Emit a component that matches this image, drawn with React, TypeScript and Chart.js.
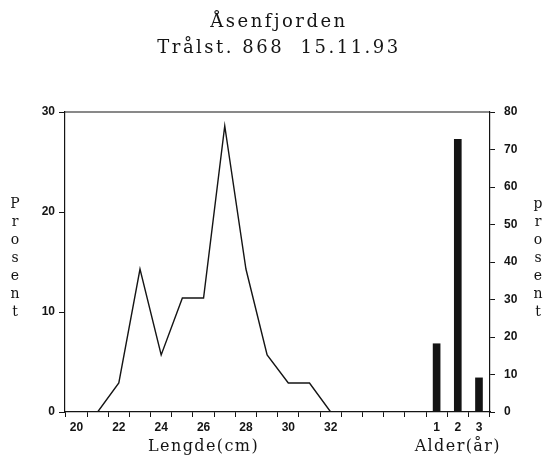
import React, { useEffect, useRef } from 'react';
import { Chart, registerables } from 'chart.js';

Chart.register(...registerables);

// ---- data ----
const lengthsCm = [21, 22, 23, 24, 25, 26, 27, 28, 29, 30, 31, 32];
const lengthPct = [0, 2.9, 14.3, 5.7, 11.4, 11.4, 28.6, 14.3, 5.7, 2.9, 2.9, 0];
const ages = [1, 2, 3];
const agePct = [18.2, 72.7, 9.1];
const AGE_POS_OFFSET = 36; // age section sits on the same axis, after the length section
const lengthTickLabels = [20, 22, 24, 26, 28, 30, 32];
const leftTicks = [0, 10, 20, 30];
const rightTicks = [0, 10, 20, 30, 40, 50, 60, 70, 80];
const titleLines = ['Åsenfjorden', 'Trålst. 868  15.11.93'];
const xTitleLength = 'Lengde(cm)';
const xTitleAge = 'Alder(år)';
const yTitle = 'Prosent';

const INK = '#141414';
const SERIF = '"DejaVu Serif", serif';
const TICK_FONT = { family: '"Liberation Sans", sans-serif', size: 12, weight: 'bold' as const };

const xTickPositions: number[] = [];
for (let v = lengthTickLabels[0]; v <= AGE_POS_OFFSET + ages[ages.length - 1]; v++) xTickPositions.push(v);

function xLabel(v: number): string {
  if (lengthTickLabels.includes(v)) return String(v);
  const a = v - AGE_POS_OFFSET;
  if (ages.includes(a)) return String(a);
  return '';
}

const textPlugin = {
  id: 'extraTexts',
  afterDraw(chart: any) {
    const ctx = chart.ctx as CanvasRenderingContext2D;
    const { left, right, top, bottom } = chart.chartArea;
    const xs = chart.scales.x;
    ctx.save();
    // top frame line
    ctx.strokeStyle = INK;
    ctx.lineWidth = 1.2;
    ctx.beginPath();
    ctx.moveTo(left, top);
    ctx.lineTo(right, top);
    ctx.stroke();

    ctx.fillStyle = INK;
    ctx.textAlign = 'center';
    ctx.textBaseline = 'middle';
    // title
    ctx.font = `18px ${SERIF}`;
    (ctx as any).letterSpacing = '2.5px';
    ctx.fillText(titleLines[0], 279, 22);
    ctx.fillText(titleLines[1], 279, 48);
    // axis titles
    ctx.font = `16px ${SERIF}`;
    (ctx as any).letterSpacing = '1.4px';
    const midLen = (lengthTickLabels[0] + lengthTickLabels[lengthTickLabels.length - 1]) / 2;
    ctx.fillText(xTitleLength, xs.getPixelForValue(midLen), 447);
    ctx.fillText(xTitleAge, xs.getPixelForValue(AGE_POS_OFFSET + ages[1]), 447);
    // vertical "Prosent" both sides
    ctx.font = `14px ${SERIF}`;
    (ctx as any).letterSpacing = '0px';
    const letters = yTitle.split('');
    const step = 18;
    const mid = (top + bottom) / 2 - 4;
    const start = mid - (step * (letters.length - 1)) / 2;
    letters.forEach((ch, i) => {
      ctx.fillText(ch, 15, start + i * step);
      ctx.fillText(i === 0 ? ch.toLowerCase() : ch, 538, start + i * step);
    });
    ctx.restore();
  },
};

export default function App() {
  const ref = useRef<HTMLCanvasElement | null>(null);
  useEffect(() => {
    if (!ref.current) return;
    const chart = new Chart(ref.current, {
      type: 'line',
      data: {
        datasets: [
          {
            type: 'line',
            data: lengthsCm.map((x, i) => ({ x, y: lengthPct[i] })),
            borderColor: INK,
            borderWidth: 1.4,
            pointRadius: 0,
            tension: 0,
            yAxisID: 'y',
            xAxisID: 'x',
          },
          {
            type: 'bar',
            data: ages.map((a, i) => ({ x: AGE_POS_OFFSET + a, y: agePct[i] })),
            backgroundColor: INK,
            borderWidth: 0,
            barThickness: 7,
            yAxisID: 'y1',
            xAxisID: 'x',
          } as any,
        ],
      },
      options: {
        responsive: false,
        animation: false,
        events: [],
        layout: { padding: { top: 112, left: 0, right: 0, bottom: 0 } },
        plugins: { legend: { display: false }, tooltip: { enabled: false }, title: { display: false } },
        scales: {
          x: {
            type: 'linear',
            min: 19.46,
            max: 39.52,
            offset: false,
            afterBuildTicks: (s: any) => {
              s.ticks = xTickPositions.map((v) => ({ value: v }));
            },
            afterFit: (s: any) => {
              s.height = 45;
            },
            ticks: {
              autoSkip: false,
              maxRotation: 0,
              minRotation: 0,
              padding: 3,
              color: INK,
              font: TICK_FONT,
              callback: (v: any) => xLabel(Number(v)),
            },
            grid: { display: true, drawOnChartArea: false, drawTicks: true, tickLength: 5, color: INK, lineWidth: 1 },
            border: { display: true, color: INK, width: 1.2 },
          },
          y: {
            type: 'linear',
            position: 'left',
            min: 0,
            max: 30,
            afterBuildTicks: (s: any) => {
              s.ticks = leftTicks.map((v) => ({ value: v }));
            },
            afterFit: (s: any) => {
              s.width = 65;
            },
            ticks: { padding: 4, color: INK, font: TICK_FONT },
            grid: { display: true, drawOnChartArea: false, drawTicks: true, tickLength: 6, color: INK, lineWidth: 1 },
            border: { display: true, color: INK, width: 1.2 },
          },
          y1: {
            type: 'linear',
            position: 'right',
            min: 0,
            max: 80,
            afterBuildTicks: (s: any) => {
              s.ticks = rightTicks.map((v) => ({ value: v }));
            },
            afterFit: (s: any) => {
              s.width = 56;
            },
            ticks: { padding: 9, color: INK, font: TICK_FONT },
            grid: { display: true, drawOnChartArea: false, drawTicks: true, tickLength: 5, color: INK, lineWidth: 1 },
            border: { display: true, color: INK, width: 1.2 },
          },
        },
      } as any,
      plugins: [textPlugin as any],
    });
    return () => chart.destroy();
  }, []);

  return (
    <div style={{ position: 'absolute', left: 0, top: 0, width: 546, height: 457, background: '#fff' }}>
      <canvas ref={ref} width={546} height={457} style={{ display: 'block' }} />
    </div>
  );
}
